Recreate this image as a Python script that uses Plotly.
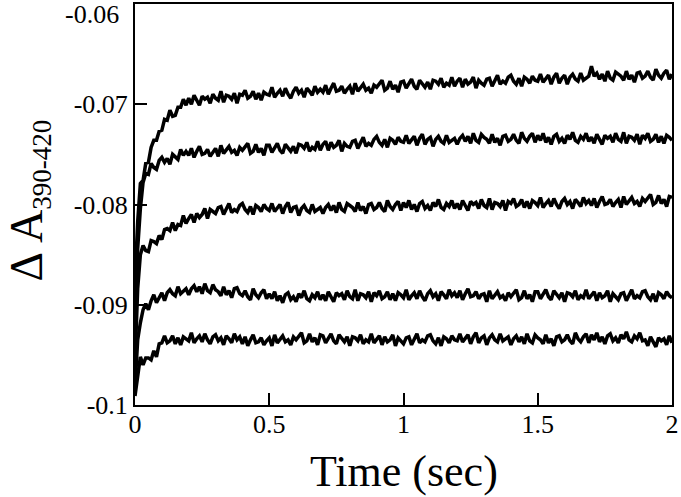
import plotly.graph_objects as go

# sampling clock of the stopped-flow traces (s), 10 ms per point
time_s = [i / 100 for i in range(201)]

# ΔA(390-420), in units of 1e-4 absorbance, top trace first
trace_1 = [
    -877, -817, -779, -776, -759, -758, -743, -736, -736, -727,
    -726, -715, -716, -706, -712, -711, -703, -703, -695, -701,
    -694, -700, -691, -697, -701, -692, -695, -693, -699, -690,
    -694, -696, -687, -698, -691, -692, -695, -689, -699, -690,
    -691, -686, -694, -692, -687, -695, -689, -696, -688, -690,
    -691, -683, -693, -689, -686, -692, -684, -690, -694, -687,
    -683, -689, -686, -693, -684, -687, -691, -682, -688, -685,
    -688, -681, -690, -684, -679, -687, -686, -682, -689, -685,
    -682, -690, -679, -687, -683, -680, -686, -684, -689, -681,
    -683, -680, -676, -686, -684, -677, -685, -681, -688, -678,
    -677, -684, -680, -675, -682, -685, -676, -679, -683, -678,
    -685, -676, -677, -680, -674, -683, -679, -681, -673, -682,
    -677, -674, -683, -675, -680, -678, -673, -684, -676, -679,
    -681, -675, -674, -682, -676, -671, -680, -677, -679, -673,
    -671, -677, -680, -674, -682, -673, -675, -679, -672, -676,
    -677, -670, -678, -675, -671, -680, -673, -669, -679, -674,
    -671, -680, -673, -670, -675, -677, -669, -676, -674, -672,
    -662, -672, -669, -675, -670, -677, -667, -674, -676, -668,
    -670, -672, -676, -667, -675, -671, -678, -669, -668, -674,
    -672, -667, -673, -676, -665, -671, -674, -669, -666, -675,
    -670,
]
trace_2 = [
    -932, -844, -804, -778, -769, -770, -759, -763, -765, -756,
    -753, -758, -754, -760, -750, -752, -755, -745, -751, -747,
    -751, -744, -753, -747, -742, -750, -749, -745, -752, -748,
    -744, -752, -741, -749, -745, -742, -748, -746, -751, -743,
    -746, -743, -739, -749, -747, -740, -748, -744, -751, -741,
    -741, -748, -744, -739, -746, -749, -740, -743, -747, -742,
    -749, -740, -741, -744, -738, -747, -743, -745, -737, -746,
    -740, -737, -746, -738, -743, -741, -736, -747, -739, -742,
    -743, -737, -736, -744, -738, -733, -742, -739, -741, -735,
    -732, -738, -741, -735, -743, -734, -736, -740, -733, -737,
    -738, -731, -739, -736, -732, -741, -734, -730, -740, -735,
    -733, -742, -735, -732, -737, -739, -731, -738, -736, -734,
    -740, -734, -731, -737, -732, -739, -729, -736, -738, -730,
    -733, -735, -739, -730, -738, -734, -741, -732, -731, -737,
    -735, -730, -736, -739, -728, -734, -737, -732, -729, -738,
    -731, -736, -729, -738, -733, -740, -732, -730, -737, -734,
    -739, -731, -735, -728, -736, -738, -732, -735, -729, -737,
    -733, -739, -730, -736, -740, -731, -734, -732, -738, -729,
    -735, -737, -728, -739, -732, -733, -736, -730, -740, -731,
    -734, -729, -737, -735, -730, -738, -732, -739, -731, -733,
    -736,
]
trace_3 = [
    -957, -884, -850, -841, -846, -847, -836, -837, -839, -831,
    -835, -825, -824, -826, -818, -826, -820, -821, -811, -819,
    -814, -810, -818, -809, -813, -810, -804, -814, -805, -807,
    -809, -803, -802, -810, -804, -799, -808, -805, -807, -801,
    -799, -805, -808, -802, -810, -801, -803, -807, -800, -804,
    -806, -799, -807, -804, -800, -809, -802, -798, -808, -803,
    -802, -811, -804, -801, -806, -808, -800, -807, -805, -803,
    -809, -803, -800, -806, -801, -808, -798, -805, -807, -799,
    -801, -803, -807, -798, -806, -802, -809, -800, -799, -805,
    -803, -798, -804, -807, -796, -802, -805, -800, -797, -806,
    -798, -803, -796, -805, -800, -807, -799, -797, -804, -801,
    -806, -798, -802, -795, -803, -805, -799, -802, -796, -804,
    -799, -805, -796, -802, -806, -797, -800, -798, -804, -795,
    -801, -803, -794, -805, -798, -799, -802, -796, -806, -797,
    -799, -794, -802, -800, -795, -803, -797, -804, -796, -798,
    -801, -793, -803, -799, -796, -802, -794, -800, -804, -797,
    -794, -800, -797, -804, -795, -798, -802, -793, -799, -796,
    -801, -794, -803, -797, -792, -800, -799, -795, -802, -798,
    -795, -803, -792, -800, -796, -793, -799, -797, -802, -794,
    -797, -794, -790, -800, -798, -791, -799, -795, -802, -792,
    -793,
]
trace_4 = [
    -982, -935, -918, -905, -899, -905, -896, -890, -898, -892,
    -888, -896, -888, -885, -889, -891, -882, -889, -886, -884,
    -890, -884, -881, -887, -882, -889, -879, -886, -888, -880,
    -885, -887, -891, -882, -890, -886, -893, -884, -883, -889,
    -891, -886, -892, -895, -884, -890, -893, -888, -885, -894,
    -889, -894, -887, -896, -891, -898, -890, -888, -895, -892,
    -897, -889, -893, -886, -894, -896, -890, -893, -887, -895,
    -890, -896, -887, -893, -897, -888, -891, -889, -895, -886,
    -892, -894, -885, -896, -889, -890, -893, -887, -897, -888,
    -891, -886, -894, -892, -887, -895, -889, -896, -888, -890,
    -893, -885, -895, -891, -888, -894, -886, -892, -896, -889,
    -886, -892, -889, -896, -887, -890, -894, -885, -891, -888,
    -893, -886, -895, -889, -884, -892, -891, -887, -894, -890,
    -889, -897, -886, -894, -890, -887, -893, -891, -896, -888,
    -892, -889, -885, -895, -893, -886, -894, -890, -897, -887,
    -887, -894, -890, -885, -892, -895, -886, -889, -893, -888,
    -897, -888, -889, -892, -886, -895, -891, -893, -885, -894,
    -890, -887, -896, -888, -893, -891, -886, -897, -889, -892,
    -895, -889, -888, -896, -890, -885, -894, -891, -893, -887,
    -886, -892, -895, -889, -897, -888, -890, -894, -887, -891,
    -893,
]
trace_5 = [
    -991, -968, -952, -960, -953, -953, -955, -946, -952, -939,
    -938, -931, -938, -936, -931, -939, -933, -940, -932, -934,
    -936, -928, -938, -934, -931, -937, -929, -935, -939, -932,
    -930, -936, -933, -940, -931, -934, -938, -929, -935, -932,
    -939, -932, -941, -935, -930, -938, -937, -933, -940, -936,
    -933, -941, -930, -938, -934, -931, -937, -935, -940, -932,
    -935, -932, -928, -938, -936, -929, -937, -933, -940, -930,
    -931, -938, -934, -929, -936, -939, -930, -933, -937, -932,
    -941, -932, -933, -936, -930, -939, -935, -937, -929, -938,
    -934, -931, -940, -932, -937, -935, -930, -941, -933, -936,
    -939, -933, -932, -940, -934, -929, -938, -935, -937, -931,
    -930, -936, -939, -933, -941, -932, -934, -938, -931, -935,
    -936, -929, -937, -934, -930, -939, -932, -928, -938, -933,
    -931, -940, -933, -930, -935, -937, -929, -936, -934, -932,
    -940, -934, -931, -937, -932, -939, -929, -936, -938, -930,
    -933, -935, -939, -930, -938, -934, -941, -932, -931, -937,
    -935, -930, -936, -939, -928, -934, -937, -932, -929, -938,
    -930, -935, -928, -937, -932, -939, -931, -929, -936, -933,
    -938, -930, -934, -927, -935, -937, -931, -934, -928, -936,
    -935, -941, -932, -938, -942, -933, -936, -934, -940, -931,
    -938,
]

x_ticks = [0, 0.5, 1, 1.5, 2]
x_ticktext = ['0', '0.5', '1', '1.5', '2']
y_ticks = [-0.1, -0.09, -0.08, -0.07, -0.06]
y_ticktext = ['-0.1', '-0.09', '-0.08', '-0.07', '-0.06']

serif = 'Liberation Serif'
tick_font = dict(family=serif, size=26, color='black')

fig = go.Figure()
for tr in [trace_1, trace_2, trace_3, trace_4, trace_5]:
    fig.add_trace(go.Scatter(
        x=time_s,
        y=[v / 1e4 for v in tr],
        mode='lines',
        line=dict(color='black', width=3.5),
        showlegend=False,
    ))

# the top label sits a little below its tick in the original, so draw it separately
fig.add_annotation(
    x=0, xref='paper', xanchor='right', xshift=-14,
    y=y_ticks[-1], yref='y', yshift=-10,
    text=y_ticktext[-1], showarrow=False, font=tick_font,
)
# axis titles
fig.add_annotation(
    x=0.5, xref='paper', y=0, yref='paper', yanchor='middle', yshift=-66,
    text='Time (sec)', showarrow=False,
    font=dict(family=serif, size=44, color='black'),
)
fig.add_annotation(
    x=0, xref='paper', xanchor='center', xshift=-106,
    y=0.5, yref='paper', yanchor='middle', yshift=4, textangle=-90,
    text='Δ A<sub><span style="font-size:27px">390-420</span></sub>', showarrow=False,
    font=dict(family=serif, size=46, color='black'),
)

fig.update_layout(
    width=681, height=497,
    margin=dict(l=135, r=9, t=4, b=92),
    plot_bgcolor='white',
    paper_bgcolor='white',
    font=dict(family=serif, color='black'),
    xaxis=dict(
        range=[0, 2], automargin=False,
        tickvals=x_ticks, ticktext=x_ticktext,
        ticks='inside', ticklen=12, tickwidth=2, tickcolor='black',
        tickfont=tick_font, ticklabelstandoff=-5,
        showline=True, linecolor='black', linewidth=2, mirror=True,
        showgrid=False, zeroline=False,
    ),
    yaxis=dict(
        range=[-0.1, -0.06], automargin=False,
        tickvals=y_ticks[:-1], ticktext=y_ticktext[:-1],
        ticks='inside', ticklen=12, tickwidth=2, tickcolor='black',
        tickfont=tick_font,
        showline=True, linecolor='black', linewidth=2, mirror=True,
        showgrid=False, zeroline=False,
    ),
)

# the page's default 8px body margin would push the 681x497 figure off the window
fig.write_html(
    "out.html",
    config={'displayModeBar': False},
    post_script="document.body.style.margin = '0';",
)
